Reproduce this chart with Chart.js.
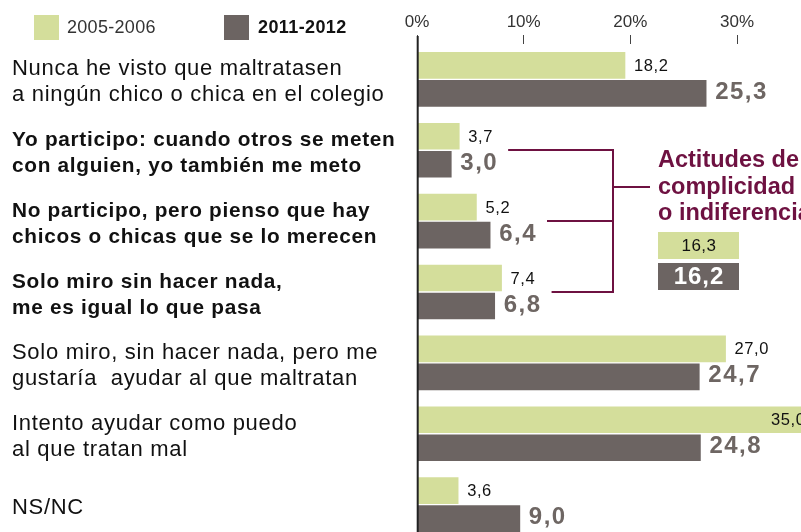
<!DOCTYPE html>
<html>
<head>
<meta charset="utf-8">
<script src="https://cdn.jsdelivr.net/npm/chart.js@4.4.1/dist/chart.umd.min.js"></script>
<style>
html,body{margin:0;padding:0;background:#fff;overflow:hidden;width:801px;height:532px;}
#wrap{position:relative;width:801px;height:545px;}
</style>
</head>
<body>
<div id="wrap"><canvas id="c" width="801" height="545"></canvas></div>
<script>
const categories = [
  ["Nunca he visto que maltratasen", "a ningún chico o chica en el colegio"],
  ["Yo participo: cuando otros se meten", "con alguien, yo también me meto"],
  ["No participo, pero pienso que hay", "chicos o chicas que se lo merecen"],
  ["Solo miro sin hacer nada,", "me es igual lo que pasa"],
  ["Solo miro, sin hacer nada, pero me", "gustaría  ayudar al que maltratan"],
  ["Intento ayudar como puedo", "al que tratan mal"],
  ["NS/NC"]
];
const seriesNames = ["2005-2006", "2011-2012"];
const values2005 = [18.2, 3.7, 5.2, 7.4, 27.0, 35.0, 3.6];
const values2011 = [25.3, 3.0, 6.4, 6.8, 24.7, 24.8, 9.0];
const boldRows = [1, 2, 3];
const tickValues = [0, 10, 20, 30];
const summaryTitle = ["Actitudes de", "complicidad", "o indiferencia"];
const summaryValues = [16.3, 16.2];

const FONT = "'Liberation Sans', Arial, Helvetica, sans-serif";
const GREEN = '#d4de9b';
const DARK = '#6c6462';
const DARK_TXT = '#6e6663';
const MAROON = '#6e1141';
const fmt = v => v.toFixed(1).replace('.', ',');

function spaced(ctx, px) { try { ctx.letterSpacing = px + 'px'; } catch (e) {} }

const spacing = {
  id: 'spacing',
  beforeDraw(chart) { spaced(chart.ctx, 0.7); },
  beforeDatasetsDraw(chart) { spaced(chart.ctx, 0); }
};

const overlay = {
  id: 'overlay',
  afterDraw(chart) {
    const ctx = chart.ctx;
    const ca = chart.chartArea;
    const metas = [chart.getDatasetMeta(0), chart.getDatasetMeta(1)];
    ctx.save();
    ctx.textBaseline = 'middle';
    ctx.textAlign = 'left';
    const ends = [];
    metas.forEach((meta, di) => {
      ctx.font = di === 0 ? '16.5px ' + FONT : 'bold 24px ' + FONT;
      spaced(ctx, di === 0 ? 0.6 : 1.5);
      ctx.fillStyle = di === 0 ? '#111' : DARK_TXT;
      meta.data.forEach((el, i) => {
        const txt = fmt(chart.data.datasets[di].data[i]);
        const x = Math.min(el.x + 9, ca.right - 30);
        ctx.fillText(txt, x, el.y + (di === 0 ? 1 : -1));
        const e = x + ctx.measureText(txt).width;
        ends[i] = Math.max(ends[i] || 0, e);
      });
    });
    spaced(ctx, 0);
    // vertical axis line
    ctx.strokeStyle = '#222';
    ctx.lineWidth = 2;
    ctx.beginPath();
    ctx.moveTo(ca.left + 0.7, 36);
    ctx.lineTo(ca.left + 0.7, chart.height);
    ctx.stroke();
    // bracket
    const yScale = chart.scales.y;
    const ys = boldRows.map(i => Math.round(yScale.getPixelForValue(i)));
    const vx = 613;
    ctx.strokeStyle = MAROON;
    ctx.lineWidth = 2;
    ctx.beginPath();
    boldRows.forEach((r, k) => {
      ctx.moveTo(ends[r] + 10, ys[k]);
      ctx.lineTo(vx, ys[k]);
    });
    ctx.moveTo(vx, ys[0] - 1);
    ctx.lineTo(vx, ys[ys.length - 1] + 1);
    ctx.moveTo(vx, 187);
    ctx.lineTo(650, 187);
    ctx.stroke();
    // title
    ctx.fillStyle = MAROON;
    ctx.font = 'bold 23.5px ' + FONT;
    summaryTitle.forEach((t, k) => ctx.fillText(t, 658, 161 + k * 26.5));
    // summary boxes
    ctx.fillStyle = GREEN;
    ctx.fillRect(658, 232, 81, 27);
    ctx.fillStyle = DARK;
    ctx.fillRect(658, 263, 81, 27);
    ctx.textAlign = 'center';
    ctx.fillStyle = '#111';
    ctx.font = '17px ' + FONT;
    spaced(ctx, 0.5);
    ctx.fillText(fmt(summaryValues[0]), 699, 246);
    ctx.fillStyle = '#fff';
    ctx.font = 'bold 24px ' + FONT;
    spaced(ctx, 1);
    ctx.fillText(fmt(summaryValues[1]), 699, 277);
    // legend
    ctx.textAlign = 'left';
    ctx.fillStyle = GREEN;
    ctx.fillRect(34, 15, 25, 25);
    ctx.fillStyle = DARK;
    ctx.fillRect(224, 15, 25, 25);
    ctx.font = '18px ' + FONT;
    spaced(ctx, 0.3);
    ctx.fillStyle = '#333';
    ctx.fillText(seriesNames[0], 67, 28);
    ctx.font = 'bold 18px ' + FONT;
    spaced(ctx, 0.4);
    ctx.fillStyle = '#111';
    ctx.fillText(seriesNames[1], 258, 28);
    spaced(ctx, 0);
    ctx.restore();
  }
};

new Chart(document.getElementById('c'), {
  type: 'bar',
  data: {
    labels: categories,
    datasets: [
      { label: seriesNames[0], data: values2005, backgroundColor: GREEN, barThickness: 28, maxBarThickness: 26 },
      { label: seriesNames[1], data: values2011, backgroundColor: DARK, barThickness: 28, maxBarThickness: 26 }
    ]
  },
  options: {
    indexAxis: 'y',
    responsive: false,
    animation: false,
    events: [],
    layout: { padding: { left: 12, top: 0, right: 0, bottom: 5 } },
    plugins: { legend: { display: false }, tooltip: { enabled: false } },
    scales: {
      x: { type: 'linear', min: 0, max: 33.6, display: false },
      xTicks: {
        type: 'linear', axis: 'x', position: 'top', min: 0, max: 36,
        grid: { drawOnChartArea: false, drawTicks: true, tickLength: 9, color: '#444', lineWidth: 1, z: 1 },
        border: { display: false },
        ticks: { z: 1, padding: 2, color: '#333', font: { family: FONT, size: 17 }, callback: v => v + '%' },
        afterBuildTicks: s => { s.ticks = tickValues.map(v => ({ value: v })); },
        afterFit: s => { s.height = 44; }
      },
      y: {
        type: 'category', position: 'left',
        grid: { display: false, drawTicks: false },
        border: { display: false },
        ticks: {
          crossAlign: 'far', autoSkip: false, padding: 0, color: '#111', labelOffset: 3,
          font: c => boldRows.includes(c.index)
            ? { family: FONT, size: 20.8, weight: 'bold', lineHeight: '26px' }
            : { family: FONT, size: 22, weight: 'normal', lineHeight: '26px' }
        },
        afterFit: s => { s.width = 405; s.paddingTop = 0; s.paddingBottom = 0; }
      }
    }
  },
  plugins: [spacing, overlay]
});
</script>
</body>
</html>
